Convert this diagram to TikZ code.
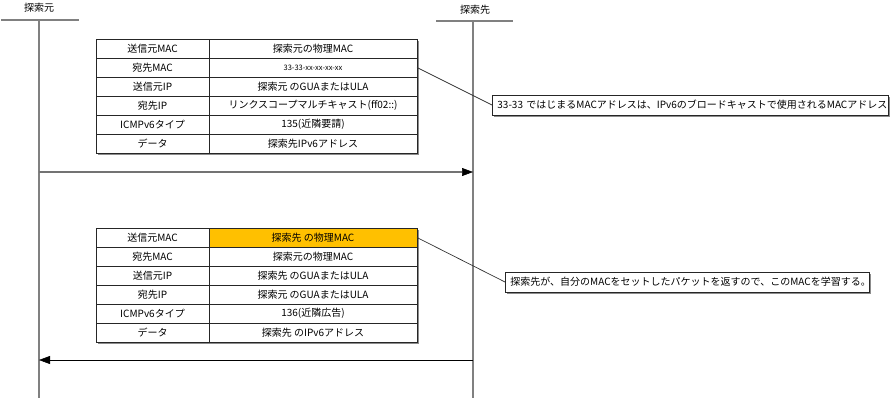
\documentclass[tikz,border=0pt]{standalone}
\usepackage{fontspec}
\setmainfont{Noto Sans CJK JP}
\usetikzlibrary{arrows.meta,shadows}
\tikzset{
  x=1pt,y=-1pt,
  every node/.style={font=\fontsize{10}{12}\selectfont},
  lifeline/.style={draw=black!50,line width=1.6pt},
  headbar/.style={draw=black!50,line width=1.6pt},
  lcell/.style={draw=black!85,line width=0.9pt,anchor=north west,minimum width=113pt,minimum height=19pt,inner sep=0pt,outer sep=0pt,fill=white},
  rcell/.style={draw=black!85,line width=0.9pt,anchor=north west,minimum width=208pt,minimum height=19pt,inner sep=0pt,outer sep=0pt,fill=white},
  tshadow/.style={fill=black!45,draw=none},
  callout/.style={draw=black!85,line width=0.8pt,fill=white,anchor=west,minimum height=20pt,inner xsep=5pt,inner ysep=0pt,align=left,
    drop shadow={shadow xshift=1.6pt,shadow yshift=-1.6pt,fill=black!45,opacity=1}},
  leader/.style={draw=black!80,line width=0.7pt},
  tip/.tip={Triangle[length=11pt,width=8pt,color=black,line width=0.5pt]},
  msgA/.style={draw=black!55,line width=1.5pt,-tip},
  msgB/.style={draw=black,line width=1pt,-tip},
}
\begin{document}
\begin{tikzpicture}
\useasboundingbox (0,0) rectangle (890,400);
% lifelines
\node (hL) at (39,8) {探索元};
\node (hR) at (475,10) {探索先};
\coordinate (bL1) at (1,20);
\coordinate (bL2) at (79,20);
\coordinate (bR1) at (436,21);
\coordinate (bR2) at (513,21);
\coordinate (tL) at (39,20);
\coordinate (eL) at (39,398);
\coordinate (tR) at (473,21);
\coordinate (eR) at (473,398);
\draw[headbar] (bL1) -- (bL2);
\draw[headbar] (bR1) -- (bR2);
\draw[lifeline] (tL) -- (eL);
\draw[lifeline] (tR) -- (eR);

% top table
\fill[tshadow] (98,41) rectangle (419,154.5);
\node[lcell] (a1l) at (96,39) {送信元MAC};
\node[rcell] (a1r) at (209,39) {探索元の物理MAC};
\node[lcell] (a2l) at (96,58) {宛先MAC};
\node[rcell] (a2r) at (209,58) {\fontsize{7.5}{9}\selectfont 33-33-xx-xx-xx-xx};
\node[lcell] (a3l) at (96,77) {送信元IP};
\node[rcell] (a3r) at (209,77) {探索元 のGUAまたはULA};
\node[lcell] (a4l) at (96,96) {宛先IP};
\node[rcell] (a4r) at (209,96) {リンクスコープマルチキャスト(ff02::)};
\node[lcell] (a5l) at (96,115) {ICMPv6タイプ};
\node[rcell] (a5r) at (209,115) {135(近隣要請)};
\node[lcell] (a6l) at (96,134) {データ};
\node[rcell] (a6r) at (209,134) {探索先IPv6アドレス};

% callout 1
\node[callout,text width=386pt] (c1) at (492,105) {33-33 ではじまるMACアドレスは、IPv6のブロードキャストで使用されるMACアドレス};
\draw[leader] (a2r.east) -- (c1.west);

% message 1
\coordinate (m1s) at (39,172);
\coordinate (m1e) at (473,172);
\draw[msgA] (m1s) -- (m1e);

% bottom table
\fill[tshadow] (98,230) rectangle (419,343.5);
\node[lcell] (b1l) at (96,228) {送信元MAC};
\node[rcell,fill={rgb,255:red,255;green,192;blue,0}] (b1r) at (209,228) {探索先 の物理MAC};
\node[lcell] (b2l) at (96,247) {宛先MAC};
\node[rcell] (b2r) at (209,247) {探索元の物理MAC};
\node[lcell] (b3l) at (96,266) {送信元IP};
\node[rcell] (b3r) at (209,266) {探索先 のGUAまたはULA};
\node[lcell] (b4l) at (96,285) {宛先IP};
\node[rcell] (b4r) at (209,285) {探索元 のGUAまたはULA};
\node[lcell] (b5l) at (96,304) {ICMPv6タイプ};
\node[rcell] (b5r) at (209,304) {136(近隣広告)};
\node[lcell] (b6l) at (96,323) {データ};
\node[rcell] (b6r) at (209,323) {探索先 のIPv6アドレス};

% callout 2
\node[callout,text width=354pt] (c2) at (505,282) {探索先が、自分のMACをセットしたパケットを返すので、このMACを学習する。};
\draw[leader] (b1r.east) -- (c2.west);

% message 2
\coordinate (m2s) at (473,360);
\coordinate (m2e) at (39,360);
\draw[msgB] (m2s) -- (m2e);
\end{tikzpicture}
\end{document}
